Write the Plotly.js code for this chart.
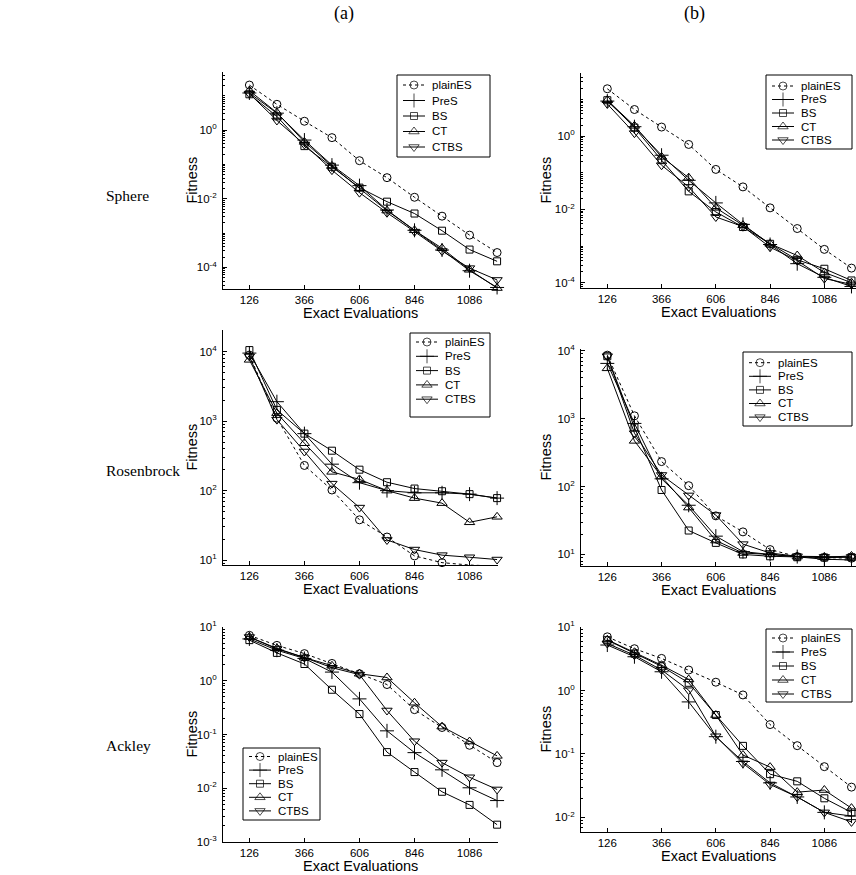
<!DOCTYPE html>
<html><head><meta charset="utf-8">
<script src="https://cdn.plot.ly/plotly-3.0.1.min.js"></script>
<style>html,body{margin:0;padding:0;background:#fff;overflow:hidden}</style>
</head><body><div id="chart" style="width:856px;height:875px"></div>
<script>
// ---------------- DATA ----------------
const evaluations = [126, 246, 366, 486, 606, 726, 846, 966, 1086, 1206];
const xTickVals = [126, 366, 606, 846, 1086];
const seriesNames = ['plainES', 'PreS', 'BS', 'CT', 'CTBS'];
const columnLabels = ['(a)', '(b)'];
const rowLabels = ['Sphere', 'Rosenbrock', 'Ackley'];
const xTitle = 'Exact Evaluations';
const yTitle = 'Fitness';

// Sphere (a)
const sphereA_plainES = [20.4, 5.6, 1.8, 0.6, 0.128, 0.041, 0.011, 0.0031, 8.7e-4, 2.7e-4];
const sphereA_PreS    = [12, 3.1, 0.51, 0.095, 0.024, 0.0047, 1.2e-3, 3.2e-4, 8.0e-5, 2.6e-5];
const sphereA_BS      = [11, 2.5, 0.34, 0.085, 0.021, 0.0082, 3.7e-3, 1.17e-3, 3.3e-4, 1.5e-4];
const sphereA_CT      = [14, 3.2, 0.45, 0.09, 0.020, 0.0045, 1.2e-3, 3.6e-4, 8.5e-5, 2.5e-5];
const sphereA_CTBS    = [11.5, 1.9, 0.38, 0.068, 0.015, 0.0039, 1.1e-3, 3.0e-4, 9.5e-5, 4.3e-5];
// Sphere (b)
const sphereB_plainES = [19.5, 5.3, 1.76, 0.59, 0.123, 0.041, 0.011, 0.003, 8.1e-4, 2.5e-4];
const sphereB_PreS    = [9, 1.8, 0.30, 0.062, 0.015, 0.0039, 1.1e-3, 3.3e-4, 1.4e-4, 7.9e-5];
const sphereB_BS      = [9.5, 1.7, 0.22, 0.031, 0.0085, 0.0033, 1.15e-3, 4.2e-4, 2.4e-4, 1.15e-4];
const sphereB_CT      = [9.5, 1.9, 0.27, 0.073, 0.011, 0.0037, 1.15e-3, 5.5e-4, 1.9e-4, 1.0e-4];
const sphereB_CTBS    = [7.5, 1.2, 0.16, 0.041, 0.0062, 0.0034, 9.3e-4, 4.0e-4, 1.3e-4, 9.0e-5];
// Rosenbrock (a)
const rosenA_plainES = [8900, 1100, 230, 102, 38, 21.5, 11.5, 9.2, 8.5, 8.2];
const rosenA_PreS    = [9500, 1900, 660, 240, 130, 100, 93, 93, 89, 78];
const rosenA_BS      = [10500, 1450, 660, 375, 200, 132, 107, 98, 89, 78];
const rosenA_CT      = [7600, 1300, 480, 186, 145, 100, 78, 66, 35, 42];
const rosenA_CTBS    = [8500, 1050, 365, 126, 57, 19.5, 14.2, 11.8, 11, 10.2];
// Rosenbrock (b)
const rosenB_plainES = [8600, 1100, 233, 103, 37, 21.5, 11.8, 9.3, 9.0, 8.8];
const rosenB_PreS    = [6500, 850, 130, 53, 18.6, 11, 10, 9.3, 8.5, 8.3];
const rosenB_BS      = [8300, 740, 89, 22.5, 14.8, 10, 9.4, 9.1, 9.0, 9.1];
const rosenB_CT      = [5500, 470, 140, 49, 16, 10.5, 10, 9.3, 9.1, 9.5];
const rosenB_CTBS    = [8300, 610, 148, 74, 38, 14.2, 10.5, 9.4, 9.2, 9.2];
// Ackley (a)
const ackleyA_plainES = [7.0, 4.55, 3.2, 2.1, 1.35, 0.85, 0.29, 0.135, 0.063, 0.030];
const ackleyA_PreS    = [6.0, 3.7, 2.6, 1.45, 0.46, 0.117, 0.046, 0.022, 0.0102, 0.0059];
const ackleyA_BS      = [5.7, 3.3, 2.05, 0.68, 0.24, 0.047, 0.020, 0.0086, 0.0049, 0.0021];
const ackleyA_CT      = [6.5, 4.0, 2.7, 1.9, 1.35, 1.15, 0.39, 0.14, 0.074, 0.040];
const ackleyA_CTBS    = [6.5, 3.9, 2.7, 1.75, 1.3, 0.28, 0.075, 0.030, 0.016, 0.0095];
// Ackley (b)
const ackleyB_plainES = [7.0, 4.55, 3.2, 2.1, 1.35, 0.85, 0.29, 0.135, 0.063, 0.030];
const ackleyB_PreS    = [5.2, 3.4, 1.97, 0.66, 0.187, 0.076, 0.035, 0.021, 0.012, 0.0105];
const ackleyB_BS      = [6.2, 3.8, 2.4, 1.32, 0.41, 0.134, 0.048, 0.037, 0.020, 0.012];
const ackleyB_CT      = [6.3, 4.0, 2.5, 1.49, 0.41, 0.096, 0.062, 0.025, 0.027, 0.014];
const ackleyB_CTBS    = [5.5, 3.6, 2.1, 1.01, 0.19, 0.071, 0.033, 0.021, 0.012, 0.0085];

// y tick exponents per panel
const sphereA_exps = [-4, -2, 0];
const sphereB_exps = [-4, -2, 0];
const rosenA_exps = [1, 2, 3, 4];
const rosenB_exps = [1, 2, 3, 4];
const ackleyA_exps = [-3, -2, -1, 0, 1];
const ackleyB_exps = [-2, -1, 0, 1];

// ---------------- LAYOUT ----------------
const W = 856, H = 875;
const FONT = 'Liberation Sans, Arial, Helvetica, sans-serif';
const SERIF = 'Liberation Serif, Times New Roman, serif';

const panels = [
  {data: [sphereA_plainES, sphereA_PreS, sphereA_BS, sphereA_CT, sphereA_CTBS], exps: sphereA_exps,
   box: [223, 498, 72, 289], xr: [11, 1210], yr: [-4.63, 1.69],
   leg: {box: [397, 75, 490, 157], row0: 85, step: 15.5}},
  {data: [sphereB_plainES, sphereB_PreS, sphereB_BS, sphereB_CT, sphereB_CTBS], exps: sphereB_exps,
   box: [581, 856, 73, 288], xr: [9.6, 1226], yr: [-4.145, 1.72],
   leg: {box: [766, 75, 852, 149], row0: 86, step: 13.5}},
  {data: [rosenA_plainES, rosenA_PreS, rosenA_BS, rosenA_CT, rosenA_CTBS], exps: rosenA_exps,
   box: [223, 498, 330, 565], xr: [11, 1210], yr: [0.93, 4.31],
   leg: {box: [410, 333, 490, 417], row0: 342, step: 14.3}},
  {data: [rosenB_plainES, rosenB_PreS, rosenB_BS, rosenB_CT, rosenB_CTBS], exps: rosenB_exps,
   box: [581, 856, 349, 566], xr: [9.6, 1226], yr: [0.83, 4.025],
   leg: {box: [743, 352, 852, 426], row0: 362.7, step: 13.6}},
  {data: [ackleyA_plainES, ackleyA_PreS, ackleyA_BS, ackleyA_CT, ackleyA_CTBS], exps: ackleyA_exps,
   box: [223, 498, 627, 842], xr: [11, 1210], yr: [-3, 1],
   leg: {box: [243, 748, 320, 820], row0: 756.5, step: 13.6}},
  {data: [ackleyB_plainES, ackleyB_PreS, ackleyB_BS, ackleyB_CT, ackleyB_CTBS], exps: ackleyB_exps,
   box: [581, 856, 627, 832], xr: [9.6, 1226], yr: [-2.23, 1.0],
   leg: {box: [766, 629, 852, 702], row0: 638, step: 14}}
];

const styles = [
  {symbol: 'circle-open', size: 8, dash: '3px,3px'},
  {symbol: 'cross-thin-open', size: 10, dash: 'solid'},
  {symbol: 'square-open', size: 7, dash: 'solid'},
  {symbol: 'triangle-up-open', size: 9, dash: 'solid'},
  {symbol: 'triangle-down-open', size: 9, dash: 'solid'}
];

const traces = [];
const layout = {
  width: W, height: H,
  margin: {l: 0, r: 0, t: 0, b: 0},
  paper_bgcolor: '#fff', plot_bgcolor: 'rgba(0,0,0,0)',
  font: {family: FONT, size: 11, color: '#000'},
  annotations: [], shapes: [], showlegend: false,
  // overlay pixel-space axes used only for the legend keys
  xaxis7: {domain: [0, 1], range: [0, W], visible: false, fixedrange: true},
  yaxis7: {domain: [0, 1], range: [H, 0], visible: false, fixedrange: true}
};
const legendTraces = [];

panels.forEach((p, i) => {
  const n = i + 1;
  const xa = 'xaxis' + (n === 1 ? '' : n), ya = 'yaxis' + (n === 1 ? '' : n);
  const xr = 'x' + (n === 1 ? '' : n), yr = 'y' + (n === 1 ? '' : n);
  p.data.forEach((vals, s) => {
    traces.push({
      x: evaluations, y: vals, xaxis: xr, yaxis: yr,
      name: seriesNames[s], type: 'scatter', mode: 'lines+markers', cliponaxis: false,
      line: {color: '#000', width: 1, dash: styles[s].dash},
      marker: {symbol: styles[s].symbol, size: styles[s].size, color: '#000', line: {color: '#000', width: 1}}
    });
  });
  const [l, r, t, b] = p.box;
  layout[xa] = {
    domain: [l / W, r / W], anchor: yr, range: p.xr,
    tickmode: 'array', tickvals: xTickVals, ticktext: xTickVals.map(String),
    ticks: 'inside', ticklen: 4, tickcolor: '#000', showline: true, linecolor: '#000', linewidth: 1,
    showgrid: false, zeroline: false, tickfont: {family: FONT, size: 11.5, color: '#000'}
  };
  const minor = [];
  for (let k = Math.floor(p.yr[0]); k <= Math.ceil(p.yr[1]); k++) {
    for (let m = 1; m <= 9; m++) {
      const v = m * Math.pow(10, k);
      const lv = Math.log10(v);
      if (lv >= p.yr[0] && lv <= p.yr[1]) minor.push(v);
    }
  }
  layout[ya] = {
    domain: [1 - b / H, 1 - t / H], anchor: xr, type: 'log', range: p.yr,
    tickmode: 'array', tickvals: p.exps.map(e => Math.pow(10, e)),
    ticktext: p.exps.map(e => '10<sup>' + e + '</sup>'),
    ticks: 'inside', ticklen: 4, tickcolor: '#000', showline: true, linecolor: '#000', linewidth: 1,
    showgrid: false, zeroline: false, tickfont: {family: FONT, size: 11.5, color: '#000'},
    ticklabelstandoff: 3,
    minor: {tickmode: 'array', tickvals: minor, ticks: 'inside', ticklen: 2, tickcolor: '#000', showgrid: false}
  };
  // legend box, keys and labels
  const [ll, lt, lr, lb] = p.leg.box;
  layout.shapes.push({
    type: 'rect', xref: 'paper', yref: 'paper', x0: ll / W, x1: lr / W, y0: 1 - lb / H, y1: 1 - lt / H,
    line: {color: '#000', width: 1}, fillcolor: '#fff', layer: 'below'
  });
  seriesNames.forEach((name, s) => {
    const ry = p.leg.row0 + s * p.leg.step;
    legendTraces.push({
      x: [ll + 6, ll + 17, ll + 28], y: [ry, ry, ry], xaxis: 'x7', yaxis: 'y7',
      type: 'scatter', mode: 'lines+markers', cliponaxis: false, hoverinfo: 'skip',
      line: {color: '#000', width: 1, dash: styles[s].dash},
      marker: {symbol: styles[s].symbol, size: [0, styles[s].size, 0], color: '#000', line: {color: '#000', width: 1}}
    });
    layout.annotations.push({
      text: name, xref: 'paper', yref: 'paper', x: (ll + 33) / W, y: 1 - ry / H,
      xanchor: 'left', yanchor: 'middle', showarrow: false,
      font: {family: FONT, size: 11.5, color: '#000'}
    });
  });
  // axis titles
  layout.annotations.push({
    text: xTitle, xref: 'paper', yref: 'paper', x: ((l + r) / 2) / W,
    y: 1 - (b + 24) / H, xanchor: 'center', yanchor: 'middle', showarrow: false,
    font: {family: FONT, size: 14.5, color: '#000'}
  });
  layout.annotations.push({
    text: yTitle, xref: 'paper', yref: 'paper', x: (i % 2 ? 545 : 191) / W,
    y: 1 - ((t + b) / 2) / H, xanchor: 'center', yanchor: 'middle', textangle: -90, showarrow: false,
    font: {family: FONT, size: 14.5, color: '#000'}
  });
});

// column / row labels
[344, 694].forEach((cx, i) => layout.annotations.push({
  text: columnLabels[i], xref: 'paper', yref: 'paper', x: cx / W, y: 1 - 13 / H,
  xanchor: 'center', yanchor: 'middle', showarrow: false, font: {family: SERIF, size: 18, color: '#000'}
}));
[196, 470, 745].forEach((cy, i) => layout.annotations.push({
  text: rowLabels[i], xref: 'paper', yref: 'paper', x: 104 / W, y: 1 - cy / H,
  xanchor: 'left', yanchor: 'middle', showarrow: false, font: {family: SERIF, size: 15.5, color: '#000'}
}));

Plotly.newPlot('chart', traces.concat(legendTraces), layout, {staticPlot: true, displayModeBar: false});
</script></body></html>
